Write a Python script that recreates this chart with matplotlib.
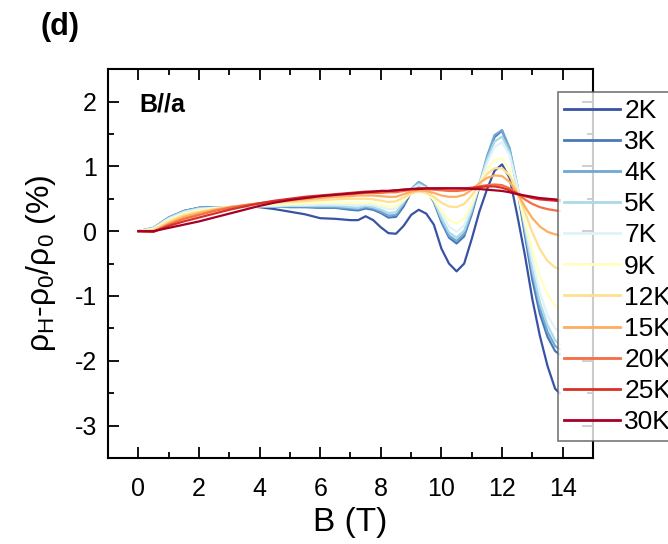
import numpy as np
import matplotlib
matplotlib.use('Agg')
import matplotlib.pyplot as plt

plt.rcParams['font.family'] = ['Liberation Sans', 'DejaVu Sans']
plt.rcParams['mathtext.default'] = 'regular'

# magnetic field grid (T)
field = [0.0, 0.5, 1.0, 1.5, 2.0, 2.5, 3.0, 3.5, 4.0, 4.5, 5.0, 5.5, 6.0, 6.5,
         7.0, 7.25, 7.5, 7.75, 8.0, 8.25, 8.5, 8.75, 9.0, 9.25, 9.5, 9.75,
         10.0, 10.25, 10.5, 10.75, 11.0, 11.25, 11.5, 11.75, 12.0, 12.25,
         12.5, 12.75, 13.0, 13.25, 13.5, 13.75, 13.9]

temps = ['2K', '3K', '4K', '5K', '7K', '9K', '12K', '15K', '20K', '25K', '30K']
colors = ['#3953a4', '#4a78b8', '#6fa8d3', '#abd9e9', '#e0f3f8', '#ffffbf',
          '#fee090', '#fdae61', '#f46d43', '#d73027', '#a50026']

mr_2k = [0.00, 0.04, 0.20, 0.31, 0.36, 0.37, 0.37, 0.39, 0.37, 0.34, 0.30, 0.26, 0.20, 0.19,
         0.17, 0.17, 0.23, 0.17, 0.06, -0.03, -0.04, 0.08, 0.25, 0.33, 0.27, 0.10,
         -0.27, -0.50, -0.62, -0.50, -0.12, 0.30, 0.64, 0.93, 1.03, 0.82,
         0.25, -0.36, -1.05, -1.62, -2.08, -2.43, -2.50]
mr_3k = [0.00, 0.05, 0.21, 0.31, 0.36, 0.37, 0.37, 0.38, 0.38, 0.38, 0.37, 0.37, 0.36, 0.36,
         0.33, 0.32, 0.35, 0.33, 0.28, 0.21, 0.22, 0.38, 0.60, 0.70, 0.64, 0.45,
         0.14, -0.10, -0.19, -0.08, 0.26, 0.68, 1.12, 1.45, 1.55, 1.25,
         0.66, -0.05, -0.75, -1.28, -1.63, -1.85, -1.90]
mr_4k = [0.00, 0.05, 0.21, 0.31, 0.36, 0.37, 0.37, 0.38, 0.38, 0.38, 0.38, 0.38, 0.37, 0.37,
         0.35, 0.34, 0.37, 0.35, 0.30, 0.24, 0.25, 0.42, 0.65, 0.76, 0.69, 0.48,
         0.17, -0.07, -0.15, -0.04, 0.30, 0.72, 1.15, 1.48, 1.56, 1.28,
         0.72, 0.02, -0.65, -1.18, -1.55, -1.77, -1.82]
mr_5k = [0.00, 0.05, 0.20, 0.30, 0.35, 0.36, 0.37, 0.38, 0.38, 0.38, 0.39, 0.39, 0.39, 0.39,
         0.37, 0.36, 0.39, 0.37, 0.33, 0.28, 0.29, 0.44, 0.64, 0.73, 0.67, 0.47,
         0.20, -0.02, -0.10, 0.01, 0.33, 0.72, 1.10, 1.38, 1.46, 1.22,
         0.70, 0.06, -0.58, -1.10, -1.45, -1.68, -1.75]
mr_7k = [0.00, 0.04, 0.19, 0.29, 0.34, 0.36, 0.37, 0.38, 0.39, 0.39, 0.40, 0.40, 0.41, 0.41,
         0.40, 0.40, 0.41, 0.40, 0.37, 0.34, 0.35, 0.47, 0.64, 0.71, 0.66, 0.50,
         0.27, 0.07, -0.01, 0.09, 0.38, 0.72, 1.04, 1.30, 1.37, 1.17,
         0.70, 0.12, -0.45, -0.95, -1.30, -1.50, -1.55]
mr_9k = [0.00, 0.03, 0.17, 0.27, 0.32, 0.35, 0.37, 0.39, 0.40, 0.41, 0.42, 0.43, 0.44, 0.44,
         0.44, 0.44, 0.44, 0.43, 0.41, 0.38, 0.39, 0.47, 0.58, 0.62, 0.59, 0.48,
         0.31, 0.17, 0.12, 0.20, 0.42, 0.70, 0.95, 1.10, 1.12, 0.95,
         0.60, 0.15, -0.30, -0.70, -0.98, -1.15, -1.19]
mr_12k = [0.00, 0.02, 0.15, 0.25, 0.30, 0.34, 0.37, 0.40, 0.42, 0.44, 0.45, 0.46, 0.48, 0.49,
          0.50, 0.50, 0.50, 0.49, 0.47, 0.45, 0.46, 0.52, 0.58, 0.61, 0.59, 0.53,
          0.44, 0.38, 0.37, 0.42, 0.55, 0.72, 0.88, 0.97, 0.97, 0.86,
          0.62, 0.30, -0.02, -0.28, -0.46, -0.56, -0.58]
mr_15k = [0.00, 0.00, 0.12, 0.22, 0.28, 0.33, 0.37, 0.40, 0.43, 0.45, 0.47, 0.49, 0.51, 0.53,
          0.54, 0.55, 0.55, 0.55, 0.54, 0.53, 0.53, 0.57, 0.61, 0.63, 0.62, 0.59,
          0.55, 0.53, 0.53, 0.56, 0.64, 0.74, 0.82, 0.86, 0.85, 0.76,
          0.59, 0.38, 0.20, 0.07, -0.01, -0.05, -0.06]
mr_20k = [0.00, -0.01, 0.10, 0.19, 0.25, 0.31, 0.36, 0.40, 0.43, 0.46, 0.49, 0.51, 0.54, 0.56,
          0.57, 0.58, 0.59, 0.59, 0.59, 0.60, 0.60, 0.62, 0.64, 0.65, 0.65, 0.64,
          0.63, 0.62, 0.62, 0.63, 0.66, 0.69, 0.71, 0.72, 0.71, 0.66,
          0.58, 0.49, 0.42, 0.37, 0.34, 0.32, 0.31]
mr_25k = [0.00, -0.01, 0.08, 0.15, 0.21, 0.27, 0.33, 0.38, 0.43, 0.47, 0.50, 0.53, 0.55, 0.57,
          0.59, 0.60, 0.61, 0.61, 0.62, 0.62, 0.63, 0.64, 0.65, 0.66, 0.66, 0.66,
          0.66, 0.66, 0.66, 0.66, 0.67, 0.68, 0.69, 0.69, 0.67, 0.63,
          0.58, 0.54, 0.51, 0.49, 0.48, 0.47, 0.46]
mr_30k = [0.00, 0.00, 0.05, 0.10, 0.15, 0.21, 0.27, 0.33, 0.39, 0.44, 0.48, 0.51, 0.54, 0.56,
          0.58, 0.59, 0.60, 0.61, 0.62, 0.62, 0.63, 0.64, 0.65, 0.65, 0.66, 0.66,
          0.66, 0.66, 0.66, 0.66, 0.65, 0.65, 0.64, 0.63, 0.62, 0.60,
          0.57, 0.55, 0.53, 0.51, 0.50, 0.49, 0.48]

curves = [mr_2k, mr_3k, mr_4k, mr_5k, mr_7k, mr_9k, mr_12k, mr_15k, mr_20k, mr_25k, mr_30k]

fig = plt.figure(figsize=(6.68, 5.44), dpi=100)
ax = fig.add_axes([0.1617, 0.158, 0.726, 0.715])

for vals, c, lab in zip(curves, colors, temps):
    ax.plot(field, vals, color=c, lw=1.6, label=lab)

ax.set_xlim(-1, 15)
ax.set_ylim(-3.5, 2.5)
ax.set_xticks(np.arange(0, 15, 2))
ax.set_xticks(np.arange(-1, 16, 1), minor=True)
ax.set_yticks(np.arange(-3, 3, 1))
ax.set_yticks(np.arange(-3.5, 2.6, 0.5), minor=True)
ax.set_yticklabels(['-3', '-2', '-1', '0', '1', '2'])

ax.tick_params(which='both', direction='in', top=True, right=True, width=1.3,
               labelsize=18)
ax.tick_params(axis='x', which='both', pad=14)
ax.tick_params(axis='y', which='both', pad=8)
ax.tick_params(which='major', length=8)
ax.tick_params(which='minor', length=4.5)
for sp in ax.spines.values():
    sp.set_linewidth(1.5)

ax.set_xlabel('B (T)', fontsize=24, labelpad=4)
ax.set_ylabel(r'$ρ_H$-$ρ_0$/$ρ_0$ (%)', fontsize=23, labelpad=12)

ax.text(0.064, 0.91, 'B//a', transform=ax.transAxes, fontsize=18,
        fontweight='bold', va='center', ha='left')
fig.text(0.061, 0.95, '(d)', fontsize=22, fontweight='bold', va='center', ha='left')

# legend box hangs off the right edge of the figure
leg = ax.legend(loc='upper left', bbox_to_anchor=(557.7 / 668, 1 - 92.3 / 544),
                bbox_transform=fig.transFigure, fontsize=19, frameon=True,
                fancybox=False, handlelength=2.1, handletextpad=0.17,
                labelspacing=0.27, borderpad=0.25, borderaxespad=0)
leg.get_frame().set_edgecolor('#555555')
leg.get_frame().set_linewidth(1.2)
for line in leg.get_lines():
    line.set_linewidth(2.0)

fig.savefig('out.png', dpi=100)
